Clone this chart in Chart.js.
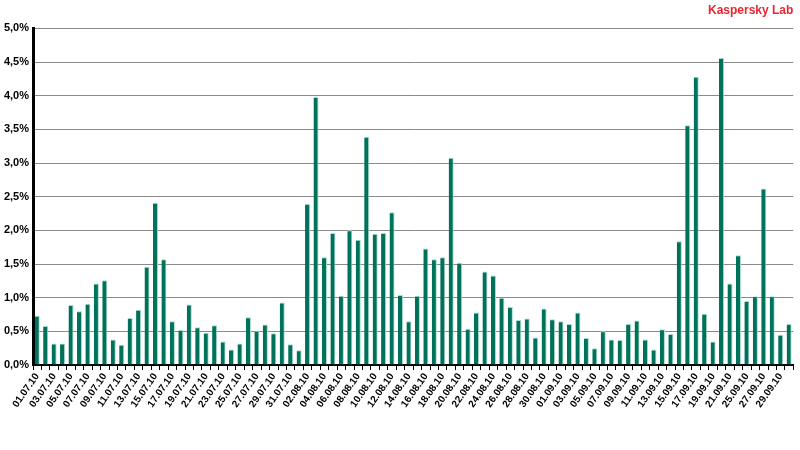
<!DOCTYPE html>
<html>
<head>
<meta charset="utf-8">
<script src="https://cdn.jsdelivr.net/npm/chart.js@4/dist/chart.umd.min.js"></script>
<style>
    html, body { margin: 0; padding: 0; background: #fff; }
    #wrap { width: 800px; height: 450px; }
</style>
</head>
<body>
<div id="wrap"><canvas id="barChart"></canvas></div>
<script>
// dates (23.09 and 24.09 are absent in the source)
var days = [
    "01.07.10", "02.07.10", "03.07.10", "04.07.10", "05.07.10", "06.07.10", "07.07.10", "08.07.10",
    "09.07.10", "10.07.10", "11.07.10", "12.07.10", "13.07.10", "14.07.10", "15.07.10", "16.07.10",
    "17.07.10", "18.07.10", "19.07.10", "20.07.10", "21.07.10", "22.07.10", "23.07.10", "24.07.10",
    "25.07.10", "26.07.10", "27.07.10", "28.07.10", "29.07.10", "30.07.10", "31.07.10",
    "01.08.10", "02.08.10", "03.08.10", "04.08.10", "05.08.10", "06.08.10", "07.08.10", "08.08.10",
    "09.08.10", "10.08.10", "11.08.10", "12.08.10", "13.08.10", "14.08.10", "15.08.10", "16.08.10",
    "17.08.10", "18.08.10", "19.08.10", "20.08.10", "21.08.10", "22.08.10", "23.08.10", "24.08.10",
    "25.08.10", "26.08.10", "27.08.10", "28.08.10", "29.08.10", "30.08.10", "31.08.10",
    "01.09.10", "02.09.10", "03.09.10", "04.09.10", "05.09.10", "06.09.10", "07.09.10", "08.09.10",
    "09.09.10", "10.09.10", "11.09.10", "12.09.10", "13.09.10", "14.09.10", "15.09.10", "16.09.10",
    "17.09.10", "18.09.10", "19.09.10", "20.09.10", "21.09.10", "22.09.10", "25.09.10", "26.09.10",
    "27.09.10", "28.09.10", "29.09.10", "30.09.10"
];

// share, %
var julyValues = [0.73, 0.58, 0.32, 0.32, 0.89, 0.80, 0.91, 1.21, 1.26, 0.38, 0.30, 0.70, 0.82, 1.46, 2.41, 1.57,
    0.65, 0.52, 0.90, 0.56, 0.48, 0.59, 0.35, 0.23, 0.32, 0.71, 0.51, 0.60, 0.47, 0.93, 0.31];
var augustValues = [0.22, 2.39, 3.98, 1.60, 1.96, 1.03, 2.00, 1.86, 3.39, 1.95, 1.96, 2.27, 1.04, 0.65, 1.03, 1.73,
    1.57, 1.60, 3.08, 1.52, 0.54, 0.78, 1.39, 1.33, 1.00, 0.86, 0.67, 0.69, 0.41, 0.84, 0.68];
var septemberValues = [0.65, 0.61, 0.78, 0.40, 0.25, 0.50, 0.38, 0.37, 0.61, 0.66, 0.38, 0.23, 0.53, 0.46, 1.84, 3.56,
    4.28, 0.76, 0.35, 4.56, 1.21, 1.63, 0.95, 1.02, 2.62, 1.02, 0.45, 0.61];

var yTicks = [0, 0.5, 1, 1.5, 2, 2.5, 3, 3.5, 4, 4.5, 5];

var values = julyValues.concat(augustValues, septemberValues);

var barData = {
    labels: days,
    datasets: [{
        data: values,
        backgroundColor: "#00715a",
        borderColor: "#a5dccc",
        borderWidth: {top: 1, right: 1, bottom: 0, left: 0},
        borderSkipped: false,
        barPercentage: 0.6,
        categoryPercentage: 1.0
    }]
};

var barOptions = {
    responsive: true,
    maintainAspectRatio: false,
    animation: false,
    layout: {padding: {left: 0, right: 0, top: 0, bottom: 0}},
    plugins: {
        legend: {display: false},
        tooltip: {enabled: false},
        title: {
            display: true,
            text: "Kaspersky Lab",
            align: "end",
            fullSize: false,
            color: "#e8262e",
            font: {family: "Liberation Sans", size: 12, weight: "bold"},
            padding: {top: 3, bottom: 11}
        }
    },
    scales: {
        x: {
            afterFit: function (scale) { scale.height = 85; },
            grid: {
                display: true,
                drawOnChartArea: false,
                drawTicks: true,
                tickLength: 5,
                color: "#000",
                offset: true
            },
            border: {color: "#000", width: 2},
            ticks: {
                autoSkip: false,
                minRotation: 55,
                maxRotation: 55,
                padding: 1,
                color: "#000",
                font: {family: "Liberation Sans", size: 10, weight: "bold"},
                callback: function (val, i) { return i % 2 === 0 ? days[i] : ""; }
            }
        },
        y: {
            min: 0,
            max: 5,
            afterFit: function (scale) { scale.width = 33; },
            afterBuildTicks: function (scale) {
                scale.ticks = yTicks.map(function (v) { return {value: v}; });
            },
            grid: {color: "#8a8a8a", lineWidth: 1, drawTicks: false},
            border: {color: "#000", width: 3},
            ticks: {
                padding: 4,
                color: "#000",
                font: {family: "Liberation Sans", size: 11, weight: "bold"},
                callback: function (v) { return v.toFixed(1).replace(".", ",") + "%"; }
            }
        }
    }
};

var ctx = document.getElementById("barChart").getContext("2d");
new Chart(ctx, {type: 'bar', data: barData, options: barOptions});
</script>
</body>
</html>
